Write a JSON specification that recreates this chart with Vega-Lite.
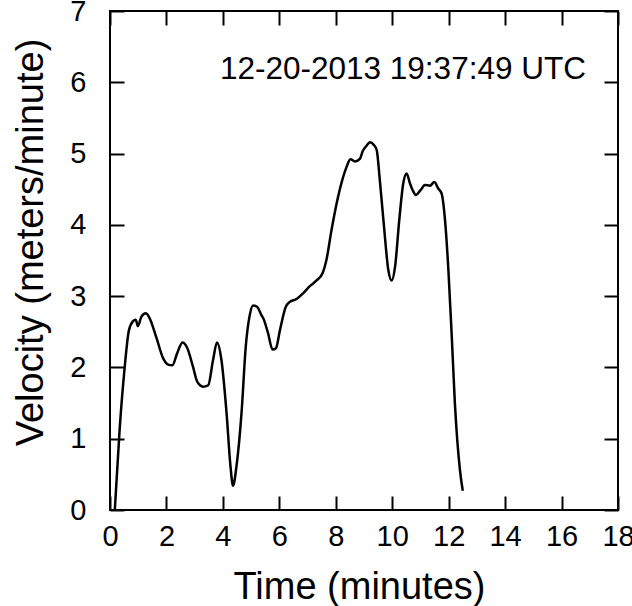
{
  "$schema": "https://vega.github.io/schema/vega-lite/v6.json",
  "width": 508,
  "height": 499,
  "autosize": "none",
  "padding": {"left": 110, "top": 11, "right": 14, "bottom": 96},
  "background": "white",
  "config": {
    "font": "Liberation Sans",
    "view": {"stroke": "black", "strokeWidth": 2},
    "axis": {
      "domain": false,
      "grid": false,
      "ticks": true,
      "tickSize": -14,
      "tickWidth": 2,
      "tickColor": "black",
      "labelFlush": false,
      "labelOverlap": false,
      "labelFont": "Liberation Sans",
      "labelFontSize": 29,
      "labelColor": "black",
      "titleFont": "Liberation Sans",
      "titleFontSize": 38,
      "titleFontWeight": "normal",
      "titleColor": "black"
    }
  },
  "datasets": {
    "v": [
      {"t": 0.17, "v": 0}, {"t": 0.34, "v": 1.12}, {"t": 0.52, "v": 2.0}, {"t": 0.67, "v": 2.52},
      {"t": 0.82, "v": 2.65}, {"t": 0.91, "v": 2.67}, {"t": 0.99, "v": 2.58}, {"t": 1.11, "v": 2.71},
      {"t": 1.27, "v": 2.76}, {"t": 1.38, "v": 2.71}, {"t": 1.65, "v": 2.41}, {"t": 1.88, "v": 2.13},
      {"t": 2.06, "v": 2.04}, {"t": 2.21, "v": 2.03}, {"t": 2.38, "v": 2.2}, {"t": 2.57, "v": 2.35},
      {"t": 2.73, "v": 2.28}, {"t": 2.94, "v": 2.01}, {"t": 3.09, "v": 1.8}, {"t": 3.3, "v": 1.73},
      {"t": 3.48, "v": 1.75}, {"t": 3.65, "v": 2.1}, {"t": 3.79, "v": 2.35}, {"t": 3.95, "v": 2.1},
      {"t": 4.13, "v": 1.36}, {"t": 4.27, "v": 0.61}, {"t": 4.36, "v": 0.34}, {"t": 4.48, "v": 0.61},
      {"t": 4.66, "v": 1.36}, {"t": 4.81, "v": 2.29}, {"t": 4.95, "v": 2.73}, {"t": 5.07, "v": 2.87},
      {"t": 5.21, "v": 2.85}, {"t": 5.37, "v": 2.73}, {"t": 5.43, "v": 2.69}, {"t": 5.6, "v": 2.48},
      {"t": 5.76, "v": 2.25}, {"t": 5.88, "v": 2.27}, {"t": 6.02, "v": 2.52}, {"t": 6.23, "v": 2.85},
      {"t": 6.37, "v": 2.92}, {"t": 6.61, "v": 2.96}, {"t": 6.84, "v": 3.04}, {"t": 7.08, "v": 3.14},
      {"t": 7.32, "v": 3.22}, {"t": 7.53, "v": 3.32}, {"t": 7.67, "v": 3.51}, {"t": 7.85, "v": 3.93},
      {"t": 8.03, "v": 4.3}, {"t": 8.21, "v": 4.6}, {"t": 8.38, "v": 4.81}, {"t": 8.52, "v": 4.92},
      {"t": 8.68, "v": 4.89}, {"t": 8.86, "v": 4.93}, {"t": 8.95, "v": 5.03}, {"t": 9.09, "v": 5.11},
      {"t": 9.21, "v": 5.16}, {"t": 9.35, "v": 5.12}, {"t": 9.45, "v": 5.05}, {"t": 9.56, "v": 4.63},
      {"t": 9.71, "v": 3.97}, {"t": 9.86, "v": 3.37}, {"t": 9.98, "v": 3.22}, {"t": 10.1, "v": 3.41},
      {"t": 10.25, "v": 4.07}, {"t": 10.39, "v": 4.58}, {"t": 10.51, "v": 4.72}, {"t": 10.63, "v": 4.58},
      {"t": 10.72, "v": 4.49}, {"t": 10.84, "v": 4.42}, {"t": 11.01, "v": 4.49}, {"t": 11.16, "v": 4.56},
      {"t": 11.34, "v": 4.55}, {"t": 11.49, "v": 4.6}, {"t": 11.63, "v": 4.51}, {"t": 11.75, "v": 4.44},
      {"t": 11.87, "v": 4.07}, {"t": 11.99, "v": 3.37}, {"t": 12.11, "v": 2.43}, {"t": 12.22, "v": 1.5},
      {"t": 12.4, "v": 0.56}, {"t": 12.5, "v": 0.27}
    ],
    "note": [{"x": 10.38, "y": 6.04, "label": "12-20-2013 19:37:49 UTC"}]
  },
  "layer": [
    {
      "data": {"name": "v"},
      "mark": {"type": "line", "color": "black", "strokeWidth": 2.5, "interpolate": "monotone", "clip": true},
      "encoding": {
        "x": {
          "field": "t", "type": "quantitative",
          "scale": {"domain": [0, 18], "nice": false, "zero": false},
          "axis": {
            "orient": "bottom",
            "values": [0, 2, 4, 6, 8, 10, 12, 14, 16, 18],
            "labelPadding": 26,
            "labelBaseline": "top",
            "title": "Time (minutes)",
            "titleBaseline": "alphabetic",
            "titleAnchor": "start",
            "titleAlign": "center",
            "titleX": 249,
            "titleY": 88
          }
        },
        "y": {
          "field": "v", "type": "quantitative",
          "scale": {"domain": [0, 7], "nice": false},
          "axis": {
            "orient": "left",
            "values": [0, 1, 2, 3, 4, 5, 6, 7],
            "labelPadding": 38,
            "title": "Velocity (meters/minute)",
            "titleAngle": 270,
            "titleBaseline": "alphabetic",
            "titleAlign": "center",
            "titleX": -68,
            "titleY": 231
          }
        }
      }
    },
    {
      "data": {"name": "v"},
      "mark": {"type": "line", "strokeOpacity": 0},
      "encoding": {
        "x": {
          "field": "t", "type": "quantitative",
          "scale": {"domain": [0, 18], "nice": false, "zero": false},
          "axis": {"orient": "top", "values": [0, 2, 4, 6, 8, 10, 12, 14, 16, 18], "labels": false, "title": null}
        },
        "y": {
          "field": "v", "type": "quantitative",
          "scale": {"domain": [0, 7], "nice": false},
          "axis": {"orient": "right", "values": [0, 1, 2, 3, 4, 5, 6, 7], "labels": false, "title": null}
        }
      }
    },
    {
      "data": {"name": "note"},
      "mark": {"type": "text", "font": "Liberation Sans", "fontSize": 31.5, "color": "black", "align": "center", "baseline": "alphabetic"},
      "encoding": {
        "x": {"field": "x", "type": "quantitative", "scale": {"domain": [0, 18], "nice": false, "zero": false}, "axis": null},
        "y": {"field": "y", "type": "quantitative", "scale": {"domain": [0, 7], "nice": false}, "axis": null},
        "text": {"field": "label"}
      }
    }
  ],
  "resolve": {"scale": {"x": "independent", "y": "independent"}}
}
